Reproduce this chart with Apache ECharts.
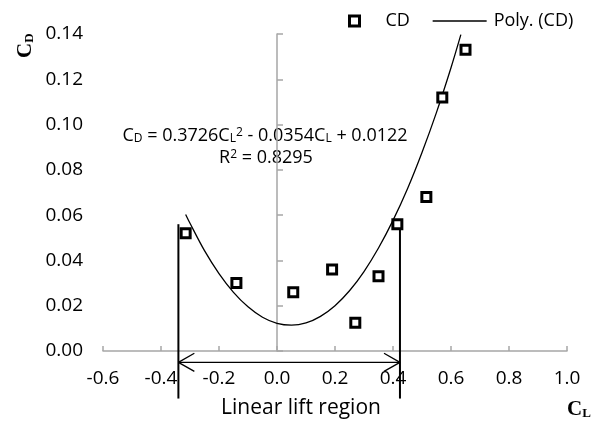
<!DOCTYPE html>
<html>
<head>
<meta charset="utf-8">
<script src="https://cdn.jsdelivr.net/npm/echarts@6/dist/echarts.min.js"></script>
<style>html,body{margin:0;padding:0;background:#fff}#c{width:607px;height:428px}</style>
</head>
<body>
<div id="c"></div>
<script>
// Measured drag coefficient points (CL, CD)
const cdPoints = [
  [-0.315, 0.052], [-0.14, 0.030], [0.056, 0.026], [0.19, 0.036], [0.27, 0.0125],
  [0.35, 0.033], [0.415, 0.056], [0.515, 0.068], [0.57, 0.112], [0.65, 0.133]
];
// Polynomial trendline (CL, CD)
const trendX = [-0.315, -0.3, -0.25, -0.2, -0.15, -0.1, -0.05, 0, 0.05, 0.1, 0.15, 0.2, 0.25, 0.3, 0.35, 0.4, 0.45, 0.5, 0.55, 0.6, 0.634];
const trendY = [0.0603, 0.0564, 0.0443, 0.0342, 0.0259, 0.0195, 0.0149, 0.0122, 0.0114, 0.0124, 0.0153, 0.0200, 0.0266, 0.0351, 0.0455, 0.0577, 0.0717, 0.0877, 0.1054, 0.1251, 0.1397];
// Linear lift region annotation (CL bounds, CD extents)
const liftRegion = [-0.34, 0.424];
const liftLineTopBottom = [0.056, -0.021];
const arrowLevel = -0.005;
const arrowHead = [0.055, 0.004];
const xTicks = { min: -0.6, max: 1.0, interval: 0.2 };
const yTicks = { min: 0, max: 0.14, interval: 0.02 };
const equationText = ['C{sub|D} = 0.3726C{sub|L}{sup|2} - 0.0354C{sub|L} + 0.0122', 'R{sup|2} = 0.8295'];

const FONT = 'Open Sans';
const chart = echarts.init(document.getElementById('c'));
const trendData = trendX.map((x, i) => [x, trendY[i]]);
const [xl, xr] = liftRegion;
const blackLine = (name, data, w) => ({
  type: 'line', name, data, clip: false, silent: true, showSymbol: false, symbol: 'none',
  lineStyle: { color: '#000', width: w }, z: 3
});
const rich = {
  sub: { fontSize: 12, fontFamily: FONT, verticalAlign: 'bottom', lineHeight: 14, padding: [8, 0, 0, 0] },
  sup: { fontSize: 12, fontFamily: FONT, verticalAlign: 'top', lineHeight: 14, padding: [0, 0, 7, 0] }
};
chart.setOption({
  animation: false,
  grid: { left: 103, right: 40, top: 34, bottom: 77 },
  legend: [
    { data: ['CD'], left: 343, top: 7, icon: 'rect', itemWidth: 10, itemHeight: 10, itemGap: 0,
      itemStyle: { color: '#fff', borderColor: '#000', borderWidth: 3 },
      textStyle: { fontFamily: FONT, fontSize: 18, color: '#000', padding: [0, 0, 0, 21] } },
    { data: ['Poly. (CD)'], left: 427, top: 7, itemWidth: 54, itemHeight: 14,
      itemStyle: { opacity: 0 },
      lineStyle: { color: '#000', width: 1.3 },
      textStyle: { fontFamily: FONT, fontSize: 18, color: '#000', padding: [0, 0, 0, 2] } }
  ],
  xAxis: {
    type: 'value', min: xTicks.min, max: xTicks.max, interval: xTicks.interval,
    axisLine: { lineStyle: { color: '#a6a6a6', width: 1.5 } },
    axisTick: { inside: true, length: 5, lineStyle: { color: '#a6a6a6', width: 1.5 } },
    axisLabel: { fontFamily: FONT, fontSize: 19, color: '#000', margin: 18, formatter: v => v.toFixed(1) },
    splitLine: { show: false }
  },
  yAxis: [
    {
      type: 'value', min: yTicks.min, max: yTicks.max, interval: yTicks.interval,
      axisLine: { show: false, onZero: false }, axisTick: { show: false },
      axisLabel: { fontFamily: FONT, fontSize: 19, color: '#000', margin: 20, formatter: v => v.toFixed(2) },
      splitLine: { show: false }
    },
    {
      type: 'value', min: yTicks.min, max: yTicks.max, interval: yTicks.interval,
      axisLine: { show: true, onZero: true, lineStyle: { color: '#a6a6a6', width: 1.5 } },
      axisTick: { show: true, length: 6, lineStyle: { color: '#a6a6a6', width: 1.5 } },
      axisLabel: { show: false }, splitLine: { show: false }
    }
  ],
  series: [
    { type: 'scatter', name: 'CD', data: cdPoints, symbol: 'rect', symbolSize: 9, z: 5,
      itemStyle: { color: '#fff', borderColor: '#000', borderWidth: 3, opacity: 1 } },
    { type: 'line', name: 'Poly. (CD)', data: trendData, smooth: 0.3, showSymbol: false, symbol: 'none',
      lineStyle: { color: '#000', width: 1.3 }, itemStyle: { color: '#000' }, z: 4 },
    blackLine('leftBound', [[xl, liftLineTopBottom[0]], [xl, liftLineTopBottom[1]]], 2),
    blackLine('rightBound', [[xr, liftLineTopBottom[0]], [xr, liftLineTopBottom[1]]], 2),
    blackLine('arrowShaft', [[xl, arrowLevel], [xr, arrowLevel]], 1.3),
    blackLine('arrowLeft', [[xl + arrowHead[0], arrowLevel + arrowHead[1]], [xl, arrowLevel], [xl + arrowHead[0], arrowLevel - arrowHead[1]]], 1.3),
    blackLine('arrowRight', [[xr - arrowHead[0], arrowLevel + arrowHead[1]], [xr, arrowLevel], [xr - arrowHead[0], arrowLevel - arrowHead[1]]], 1.3)
  ],
  graphic: [
    { type: 'text', x: 265, y: 136, style: { text: equationText[0], rich, fontFamily: FONT, fontSize: 18, fill: '#000', align: 'center', verticalAlign: 'middle' } },
    { type: 'text', x: 266, y: 158, style: { text: equationText[1], rich, fontFamily: FONT, fontSize: 18, fill: '#000', align: 'center', verticalAlign: 'middle' } },
    { type: 'text', x: 301, y: 408, style: { text: 'Linear lift region', fontFamily: FONT, fontSize: 21, fill: '#000', align: 'center', verticalAlign: 'middle' } },
    { type: 'text', x: 567, y: 410, style: { text: 'C{s|L}', rich: { s: { fontFamily: 'Liberation Serif', fontWeight: 'bold', fontSize: 13, verticalAlign: 'bottom', padding: [7, 0, 0, 0] } }, fontFamily: 'Liberation Serif', fontWeight: 'bold', fontSize: 21, fill: '#000', verticalAlign: 'middle' } },
    { type: 'text', x: 26, y: 58, rotation: Math.PI / 2, style: { text: 'C{s|D}', rich: { s: { fontFamily: 'Liberation Serif', fontWeight: 'bold', fontSize: 13, verticalAlign: 'bottom', padding: [7, 0, 0, 0] } }, fontFamily: 'Liberation Serif', fontWeight: 'bold', fontSize: 21, fill: '#000', verticalAlign: 'middle' } }
  ]
});
</script>
</body>
</html>
